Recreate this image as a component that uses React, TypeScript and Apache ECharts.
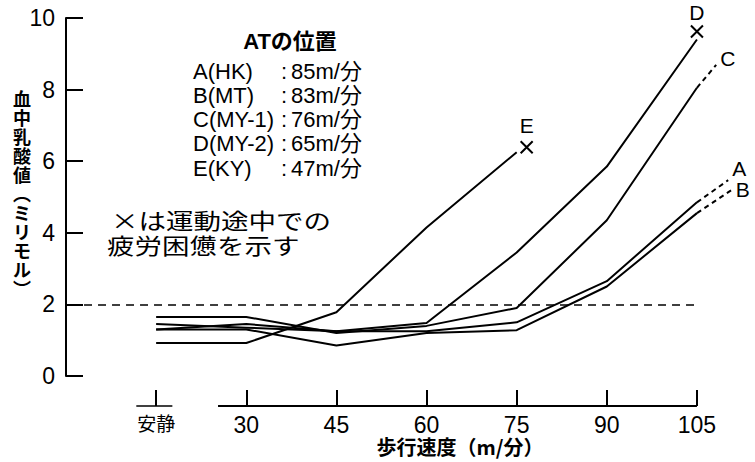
import React, { useEffect, useRef } from 'react';
import * as echarts from 'echarts';

// x positions: 安静 is drawn at 15 on the speed scale
const speeds = [15, 30, 45, 60, 75, 90, 105];
const xTickValues = [15, 30, 45, 60, 75, 90, 105];
const xTickLabels = ['安静', '30', '45', '60', '75', '90', '105'];
const seriesA = [1.45, 1.35, 1.25, 1.25, 1.5, 2.65, 4.85];
const seriesB = [1.3, 1.3, 0.85, 1.2, 1.28, 2.5, 4.55];
const seriesC = [1.65, 1.65, 1.2, 1.4, 1.9, 4.35, 8.05];
const seriesD = [1.3, 1.45, 1.25, 1.48, 3.45, 5.85, 9.4];
const seriesE = [0.92, 0.92, 1.78, 4.15, 6.25];
const extA: number[][] = [[105, 4.85], [110.2, 5.47]];
const extB: number[][] = [[105, 4.55], [110.8, 5.2]];
const extC: number[][] = [[105, 8.05], [108.2, 8.69]];
const thresholdValue = 2;
const thresholdRange = [3, 105];
const atNames = ['A(HK)', 'B(MT)', 'C(MY-1)', 'D(MY-2)', 'E(KY)'];
const atSpeeds = [85, 83, 76, 65, 47];
const yTitleChars = ['血', '中', '乳', '酸', '値', '︵', 'ミ', 'リ', 'モ', 'ル', '︶'];
const noteLines = ['×は運動途中での', '疲労困憊を示す'];
const xAxisTitle = '歩行速度（m/分）';
const restAxisRange = [11.7, 17.7];
const mainAxisRange = [25.3, 105];

const NUM_FONT = '"Liberation Sans", Arial, sans-serif';
const JP_FONT = '"Noto Sans CJK JP", "Noto Sans", sans-serif';
const MIX_FONT = '"Liberation Sans", "Noto Sans CJK JP", sans-serif';
const X_PATH = 'path://M0,0L10,10M10,0L0,10';

function pairs(vals: number[]) {
  return vals.map((v, i) => [speeds[i], v]);
}

export default function App() {
  const ref = useRef<HTMLDivElement>(null);
  useEffect(() => {
    if (!ref.current) return;
    const chart = echarts.init(ref.current, null, { renderer: 'svg' });
    const lineStyle = { color: '#000', width: 2 };
    const dashStyle = { color: '#000', width: 2, type: [5, 4] as any };
    const letterLabel = (t: string, pos: any, offset: number[], distance = 4) => ({
      show: true,
      formatter: t,
      position: pos,
      distance,
      offset,
      color: '#000',
      fontSize: 21,
      fontFamily: MIX_FONT,
    });
    const xCommon = { type: 'value', min: -0.5, max: 112 };
    const option: any = {
      animation: false,
      backgroundColor: '#fff',
      grid: [
        { left: 63, top: 18, width: 676, height: 358 },
        { left: 63, top: 405, width: 676, height: 1 },
      ],
      xAxis: [
        { ...xCommon, gridIndex: 0, show: false },
        {
          ...xCommon,
          gridIndex: 1,
          axisLine: { show: false },
          splitLine: { show: false },
          axisTick: {
            show: true,
            inside: true,
            length: 16,
            customValues: xTickValues,
            lineStyle: { color: '#000', width: 2 },
          },
          axisLabel: {
            customValues: xTickValues,
            margin: 7,
            formatter: (v: number) => {
              const i = xTickValues.indexOf(v);
              const t = i >= 0 ? xTickLabels[i] : '';
              return i === 0 ? '{jp|' + t + '}' : '{num|' + t + '}';
            },
            rich: {
              jp: { fontFamily: JP_FONT, fontSize: 19, color: '#000' },
              num: { fontFamily: NUM_FONT, fontSize: 23, color: '#000' },
            },
          },
        },
      ],
      yAxis: [
        {
          type: 'value',
          gridIndex: 0,
          min: 0,
          max: 10,
          interval: 2,
          axisLine: { show: true, lineStyle: { color: '#000', width: 2 } },
          axisTick: { show: true, inside: true, length: 17, lineStyle: { color: '#000', width: 2 } },
          axisLabel: { margin: 8, color: '#000', fontSize: 23, fontFamily: NUM_FONT },
          splitLine: { show: false },
        },
        { type: 'value', gridIndex: 1, min: 0, max: 1, show: false },
      ],
      series: [
        {
          name: 'A', type: 'line', data: pairs(seriesA), symbol: 'none', lineStyle, z: 3,
          markLine: {
            silent: true,
            symbol: ['none', 'none'],
            label: { show: false },
            lineStyle: { color: '#000', width: 1.5, type: [8, 6] },
            data: [[{ coord: [thresholdRange[0], thresholdValue] }, { coord: [thresholdRange[1], thresholdValue] }]],
          },
        },
        { name: 'B', type: 'line', data: pairs(seriesB), symbol: 'none', lineStyle },
        { name: 'C', type: 'line', data: pairs(seriesC), symbol: 'none', lineStyle },
        {
          name: 'D', type: 'line', data: pairs(seriesD), symbol: 'none', lineStyle,
          markPoint: {
            symbol: X_PATH,
            symbolSize: 12,
            itemStyle: { color: 'rgba(0,0,0,0)', borderColor: '#000', borderWidth: 2 },
            label: letterLabel('D', 'top', [0, 0], 1),
            data: [{ coord: [speeds[6], seriesD[6]], symbolOffset: [0, -8] }],
          },
        },
        {
          name: 'E', type: 'line', data: pairs(seriesE), symbol: 'none', lineStyle,
          markPoint: {
            symbol: X_PATH,
            symbolSize: 12,
            itemStyle: { color: 'rgba(0,0,0,0)', borderColor: '#000', borderWidth: 2 },
            label: letterLabel('E', 'top', [0, 0]),
            data: [{ coord: [speeds[4], seriesE[4]], symbolOffset: [10, -5] }],
          },
        },
        {
          name: 'A-ext', type: 'line', symbol: 'none', lineStyle: dashStyle,
          data: [extA[0], { value: extA[1], symbol: 'circle', symbolSize: 0.1, label: letterLabel('A', 'right', [0, -12]) }],
        },
        {
          name: 'B-ext', type: 'line', symbol: 'none', lineStyle: dashStyle,
          data: [extB[0], { value: extB[1], symbol: 'circle', symbolSize: 0.1, label: letterLabel('B', 'right', [0, 0]) }],
        },
        {
          name: 'C-ext', type: 'line', symbol: 'none', lineStyle: dashStyle,
          data: [extC[0], { value: extC[1], symbol: 'circle', symbolSize: 0.1, label: letterLabel('C', 'right', [0, -6]) }],
        },
      ],
    };
    chart.setOption(option);

    const px = (x: number, y: number) =>
      chart.convertToPixel({ xAxisIndex: 1, yAxisIndex: 1 }, [x, y]) as number[];
    const axisY = px(0, 0)[1];
    const rs = px(restAxisRange[0], 0)[0];
    const re = px(restAxisRange[1], 0)[0];
    const ms = px(mainAxisRange[0], 0)[0];
    const me = px(mainAxisRange[1], 0)[0];

    const graphics: any[] = [
      { type: 'line', shape: { x1: rs, y1: axisY, x2: re, y2: axisY }, style: { stroke: '#000', lineWidth: 1.5 } },
      { type: 'line', shape: { x1: ms, y1: axisY, x2: me, y2: axisY }, style: { stroke: '#000', lineWidth: 2 } },
      {
        type: 'text', x: 460, y: 446,
        style: { text: xAxisTitle, fontFamily: JP_FONT, fontSize: 20, fontWeight: 'bold', fill: '#000', align: 'center', verticalAlign: 'middle' },
      },
      {
        type: 'text', x: 22, y: 88,
        style: { text: yTitleChars.join('\n'), fontFamily: JP_FONT, fontSize: 18, lineHeight: 19, fontWeight: 'bold', fill: '#000', align: 'center', verticalAlign: 'top' },
      },
      {
        type: 'text', x: 290, y: 41,
        style: { text: 'ATの位置', fontFamily: MIX_FONT, fontSize: 22, fontWeight: 'bold', fill: '#000', align: 'center', verticalAlign: 'middle' },
      },
    ];
    atNames.forEach((n, i) => {
      const y = 71 + i * 24.3;
      graphics.push({ type: 'text', x: 193, y, style: { text: n, fontFamily: MIX_FONT, fontSize: 22, fill: '#000', align: 'left', verticalAlign: 'middle' } });
      graphics.push({ type: 'text', x: 281, y, style: { text: ':', fontFamily: MIX_FONT, fontSize: 22, fill: '#000', align: 'left', verticalAlign: 'middle' } });
      graphics.push({ type: 'text', x: 291, y, style: { text: atSpeeds[i] + 'm/分', fontFamily: MIX_FONT, fontSize: 22, fill: '#000', align: 'left', verticalAlign: 'middle' } });
    });
    noteLines.forEach((t, i) => {
      graphics.push({
        type: 'text', x: i === 0 ? 111 : 107, y: 219 + i * 25, scaleX: 1.25,
        style: { text: t, fontFamily: JP_FONT, fontSize: 22, fill: '#000', align: 'left', verticalAlign: 'middle' },
      });
    });
    chart.setOption({ graphic: graphics });

    return () => chart.dispose();
  }, []);
  return <div ref={ref} style={{ position: 'fixed', left: 0, top: 0, width: 755, height: 462 }} />;
}
